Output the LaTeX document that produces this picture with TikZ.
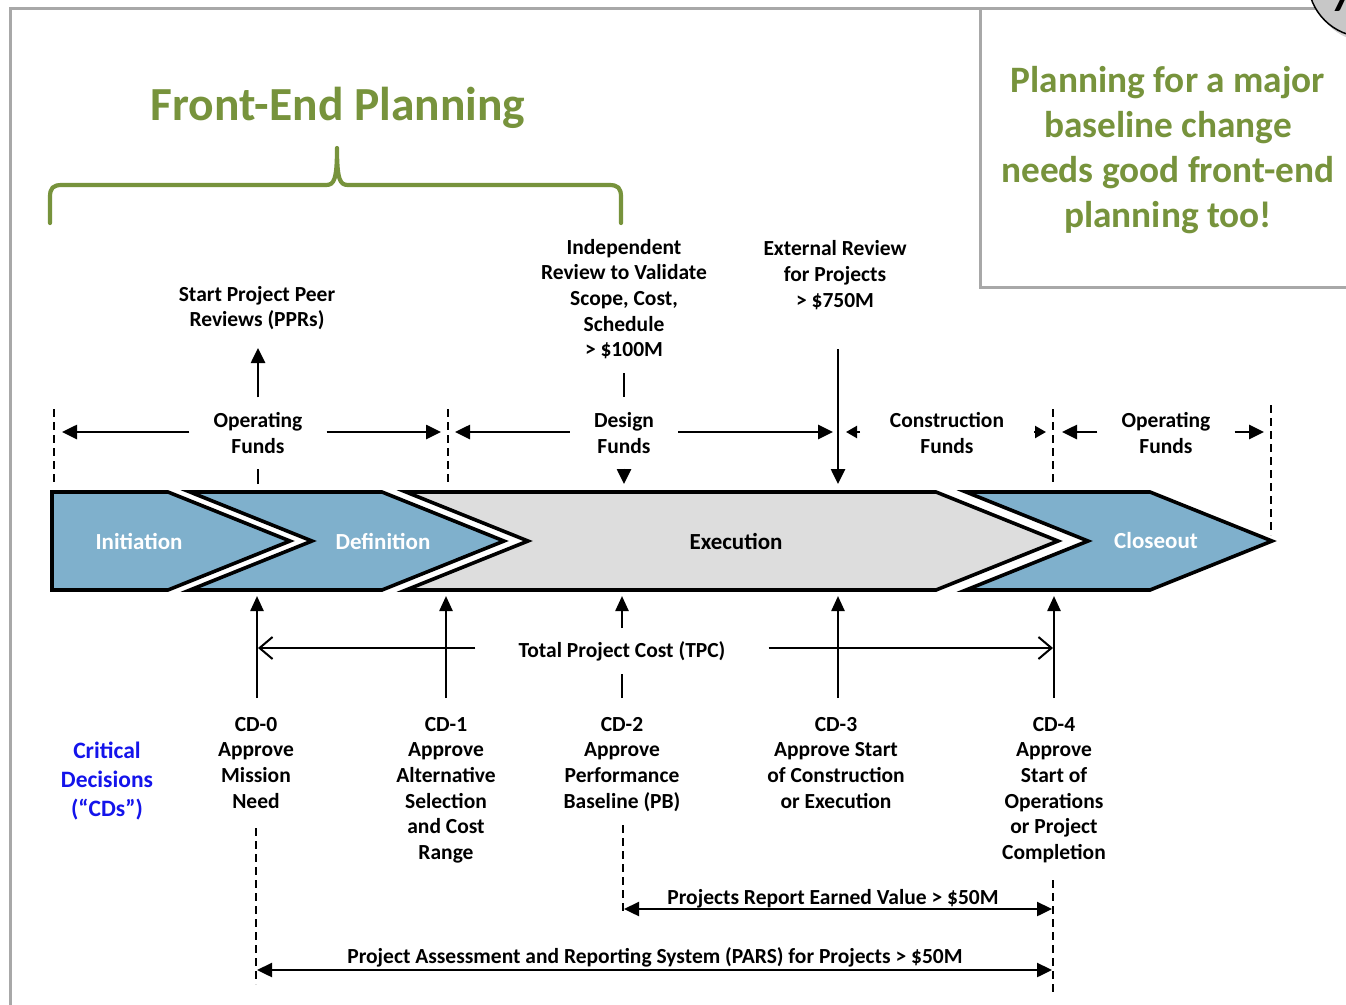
\documentclass[tikz,border=0pt]{standalone}
\usepackage{fontspec}
\setmainfont{Carlito}
\usetikzlibrary{arrows.meta}

\definecolor{fepgreen}{RGB}{119,147,60}
\definecolor{phaseblue}{RGB}{127,176,204}
\definecolor{phasegray}{RGB}{221,221,221}
\definecolor{framegray}{RGB}{168,168,168}
\definecolor{cdblue}{RGB}{20,20,235}

\tikzset{
  x=1pt, y=-1pt,
  lbl/.style={font=\fontsize{21.5}{25.6}\selectfont\bfseries, align=center, inner sep=0pt},
  fundlbl/.style={lbl, inner xsep=24pt, inner ysep=15pt},
  phase/.style={draw=black, line width=3.6pt, line join=miter},
  phaselbl/.style={font=\fontsize{23}{28}\selectfont\bfseries, inner sep=0pt},
  fund/.style={line width=2.6pt, -{Triangle[length=15pt,width=14pt]}},
  smallhead/.style={line width=2.2pt, -{Triangle[length=11pt,width=12pt]}},
  plainline/.style={line width=2.6pt},
  cdarrow/.style={line width=2.4pt, -{Triangle[length=15pt,width=13pt]}},
  tpcarrow/.style={line width=2pt, -{Straight Barb[length=13pt,width=22pt,line width=2pt]}},
  spanarrow/.style={line width=2.4pt, {Triangle[length=15pt,width=14pt]}-{Triangle[length=15pt,width=14pt]}},
  marker/.style={line width=1.8pt, dash pattern=on 8pt off 5pt},
  frame/.style={draw=framegray, line width=3pt},
}

\begin{document}
\begin{tikzpicture}
\useasboundingbox (0,0) rectangle (1346,1004);
\fill[white] (0,0) rectangle (1346,1004);

% page frame and the note box
\draw[frame] (10,1010) -- (10,8) -- (1346,8);
\draw[frame] (980,8) -- (980,287) -- (1350,287);

% page badge in the corner
\fill[black!18] (1369,-15) circle (57);
\draw[line width=1.5pt, fill=black!22] (1365,-20) circle (57);
\node[anchor=base west, inner sep=0pt, font=\fontsize{40}{40}\selectfont\bfseries] (badge) at (1331,11) {7};

% note
\node[font=\fontsize{37.3}{45}\selectfont\bfseries, text=fepgreen, align=center, inner sep=0pt] (note) at (1168,150)
  {Planning for a major\\baseline change\\needs good front-end\\planning too!};

% front-end planning brace
\node[font=\fontsize{47.5}{52}\selectfont\bfseries, text=fepgreen, inner sep=0pt] (fep) at (338,108) {Front-End Planning};
\draw[fepgreen, line width=4.2pt, line join=round, line cap=round]
  (50,223) -- (50,197) .. controls (50,188) and (53,185) .. (62,185) -- (326,185)
  .. controls (334,185) and (337,180) .. (337,148)
  .. controls (337,180) and (340,185) .. (348,185) -- (609,185)
  .. controls (618,185) and (621,188) .. (621,197) -- (621,223);

% phase chevrons
\draw[phase, fill=phaseblue] (52,492) -- (168,492) -- (290,541) -- (168,590) -- (52,590) -- cycle;
\draw[phase, fill=phaseblue] (190,492) -- (382,492) -- (504,541) -- (382,590) -- (190,590) -- (312,541) -- cycle;
\draw[phase, fill=phasegray] (406,492) -- (936,492) -- (1058,541) -- (936,590) -- (406,590) -- (528,541) -- cycle;
\draw[phase, fill=phaseblue] (966,492) -- (1150,492) -- (1272,541) -- (1150,590) -- (966,590) -- (1088,541) -- cycle;

\node[phaselbl, text=white] (init) at (139,541) {Initiation};
\node[phaselbl, text=white] (defn) at (383,541) {Definition};
\node[phaselbl] (exec) at (736,541) {Execution};
\node[phaselbl, text=white] (close) at (1156,541) {Closeout};

% phase boundaries
\coordinate (b0t) at (54,409);   \coordinate (b0b) at (54,486);
\coordinate (b1t) at (448,409);  \coordinate (b1b) at (448,486);
\coordinate (b3t) at (1053,409); \coordinate (b3b) at (1053,486);
\coordinate (b4t) at (1271,405); \coordinate (b4b) at (1271,535);
\draw[marker] (b0t) -- (b0b);
\draw[marker] (b1t) -- (b1b);
\draw[marker] (b3t) -- (b3b);
\draw[marker] (b4t) -- (b4b);

% funding bands
\node[fundlbl] (opf1) at (258,433) {Operating\\Funds};
\node[fundlbl] (desf) at (624,433) {Design\\Funds};
\node[lbl] (conf) at (947,433) {Construction\\Funds};
\node[lbl, inner xsep=24pt] (opf2) at (1166,433) {Operating\\Funds};

\coordinate (opf1L) at (62,432);   \coordinate (opf1R) at (441,432);
\coordinate (desfL) at (455,432);  \coordinate (desfR) at (833,432);
\coordinate (confLs) at (860,432); \coordinate (confL) at (846,432);
\coordinate (confRs) at (1034,432);\coordinate (confR) at (1046,432);
\coordinate (opf2L) at (1062,432); \coordinate (opf2R) at (1264,432);

\draw[fund] (opf1.west |- opf1L) -- (opf1L);
\draw[fund] (opf1.east |- opf1R) -- (opf1R);
\draw[fund] (desf.west |- desfL) -- (desfL);
\draw[fund] (desf.east |- desfR) -- (desfR);
\draw[smallhead] (confLs) -- (confL);
\draw[smallhead] (confRs) -- (confR);
\draw[fund] (opf2.west |- opf2L) -- (opf2L);
\draw[fund] (opf2.east |- opf2R) -- (opf2R);

% reviews above the bar
\node[lbl] (ppr) at (257,308) {Start Project Peer\\Reviews (PPRs)};
\node[lbl] (indep) at (624,299) {Independent\\Review to Validate\\Scope, Cost,\\Schedule\\> \$100M};
\node[lbl] (ext) at (835,275) {External Review\\for Projects\\> \$750M};

\coordinate (pprtip) at (258,348);
\coordinate (defntop) at (258,484);
\coordinate (indepbot) at (624,373);
\coordinate (exectop1) at (624,484);
\coordinate (extbot) at (838,349);
\coordinate (exectop2) at (838,484);

\draw[plainline] (defntop) -- (opf1.south);
\draw[fund] (opf1.north) -- (pprtip);
\draw[plainline] (indepbot) -- (desf.north);
\draw[fund] (desf.south) -- (exectop1);
\draw[fund] (extbot) -- (exectop2);

% critical decisions
\node[font=\fontsize{23.5}{29}\selectfont\bfseries, text=cdblue, align=center, inner sep=0pt] (cds) at (107,781)
  {Critical\\Decisions\\(``CDs'')};

\node[lbl, anchor=north] (cd0) at (256,717) {CD-0\\Approve\\Mission\\Need};
\node[lbl, anchor=north] (cd1) at (446,717) {CD-1\\Approve\\Alternative\\Selection\\and Cost\\Range};
\node[lbl, anchor=north] (cd2) at (622,717) {CD-2\\Approve\\Performance\\Baseline (PB)};
\node[lbl, anchor=north] (cd3) at (836,717) {CD-3\\Approve Start\\of Construction\\or Execution};
\node[lbl, anchor=north] (cd4) at (1054,717) {CD-4\\Approve\\Start of\\Operations\\or Project\\Completion};

\coordinate (cd0a) at (257,698);  \coordinate (cd0t) at (257,596);
\coordinate (cd1a) at (446,698);  \coordinate (cd1t) at (446,596);
\coordinate (cd2a) at (622,698);  \coordinate (cd2t) at (622,596);
\coordinate (cd3a) at (838,698);  \coordinate (cd3t) at (838,596);
\coordinate (cd4a) at (1054,698); \coordinate (cd4t) at (1054,596);

\draw[cdarrow] (cd0a) -- (cd0t);
\draw[cdarrow] (cd1a) -- (cd1t);
\draw[cdarrow] (cd3a) -- (cd3t);
\draw[cdarrow] (cd4a) -- (cd4t);

% total project cost
\node[lbl, inner xsep=43pt, inner ysep=13pt] (tpc) at (622,651) {Total Project Cost (TPC)};
\coordinate (tpcL) at (258,648);
\coordinate (tpcR) at (1053,648);
\draw[tpcarrow] (tpc.west |- tpcL) -- (tpcL);
\draw[tpcarrow] (tpc.east |- tpcR) -- (tpcR);
\draw[line width=2.4pt] (cd2a) -- (tpc.south);
\draw[cdarrow] (tpc.north) -- (cd2t);

% reporting thresholds
\coordinate (r0t) at (256,828); \coordinate (r0b) at (256,984);
\coordinate (r2t) at (623,825); \coordinate (r2b) at (623,913);
\coordinate (r4t) at (1053,880); \coordinate (r4b) at (1053,993);
\draw[marker] (r0t) -- (r0b);
\draw[marker] (r2t) -- (r2b);
\draw[marker] (r4t) -- (r4b);

\node[lbl] (ev) at (833,899) {Projects Report Earned Value > \$50M};
\node[lbl] (pars) at (655,957) {Project Assessment and Reporting System (PARS) for Projects > \$50M};
\coordinate (evL) at (624,909);  \coordinate (evR) at (1052,909);
\coordinate (parsL) at (257,970); \coordinate (parsR) at (1052,970);
\draw[spanarrow] (evL) -- (evR);
\draw[spanarrow] (parsL) -- (parsR);

\end{tikzpicture}
\end{document}
